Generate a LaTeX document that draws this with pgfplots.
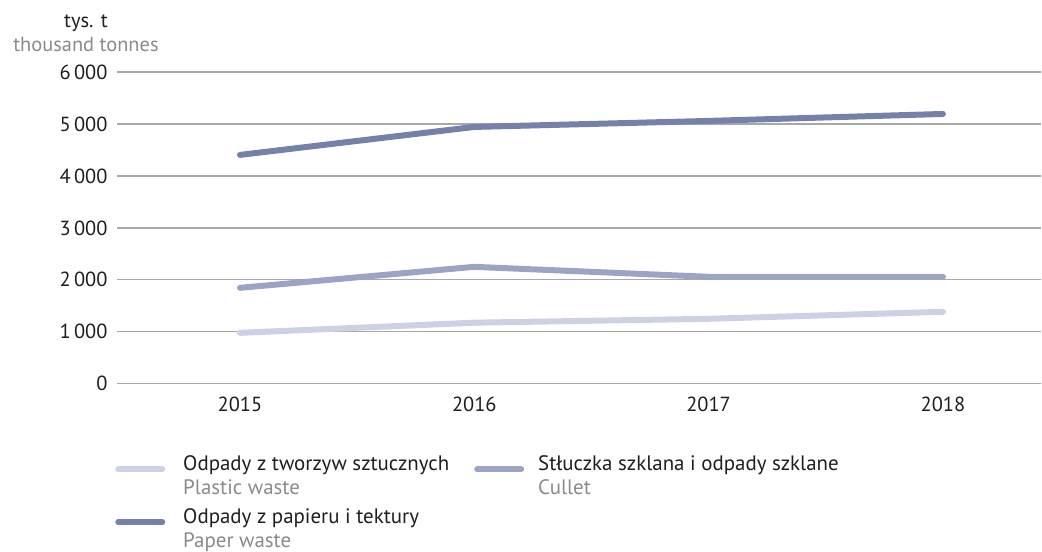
\documentclass[border=0pt]{standalone}
\usepackage{pgfplots}
\pgfplotsset{compat=1.18}
\usepackage{fontspec}
\setmainfont{PT Sans}
\definecolor{plastic}{HTML}{CDD1E4}
\definecolor{cullet}{HTML}{9CA4C6}
\definecolor{paper}{HTML}{7381AB}
\definecolor{engl}{HTML}{8A8A8A}
\definecolor{txt}{HTML}{1E1E1E}
\definecolor{gridc}{HTML}{A8A8A8}
\begin{document}
\begin{tikzpicture}
\begin{axis}[
  scale only axis,
  width=925bp, height=312bp,
  xmin=2014.475, xmax=2018.42,
  ymin=0, ymax=6000,
  axis line style={draw=none},
  tick style={draw=none},
  xtick={2015,2016,2017,2018},
  xticklabels={2015,2016,2017,2018},
  ytick={0,1000,...,6000},
  ymajorgrids,
  grid style={gridc, line width=1.3bp},
  major tick length=0pt,
  tick label style={font=\fontsize{20.5}{24}\selectfont, text=txt},
  yticklabel style={anchor=east, xshift=-6bp},
  xticklabel style={anchor=north, yshift=-10bp},
  /pgf/number format/assume math mode=true,
  /pgf/number format/1000 sep={\,},
  legend columns=2,
  legend cell align=left,
  legend style={at={(-0.002,-0.222)}, anchor=north west, draw=none, fill=none,
    inner sep=0pt, font=\fontsize{21}{24}\selectfont,
    /tikz/every even column/.append style={column sep=25bp},
    row sep=20bp,
    nodes={inner xsep=0pt, inner ysep=1bp, text=txt}},
  legend image code/.code={\draw[#1, line width=6bp, line cap=round] (3bp,0bp) -- (47bp,0bp);},
  every axis plot/.append style={line width=6bp, line cap=round, line join=round},
  clip=false,
]
\addplot[plastic] coordinates {(2015,980) (2016,1175) (2017,1250) (2018,1385)};
\addlegendentry{\hspace{18bp}\begin{tabular}{@{}l@{}}Odpady z tworzyw sztucznych\\\textcolor{engl}{Plastic waste}\end{tabular}}
\addplot[cullet] coordinates {(2015,1846) (2016,2250) (2017,2058) (2018,2058)};
\addlegendentry{\hspace{14bp}\begin{tabular}{@{}l@{}}Stłuczka szklana i odpady szklane\\\textcolor{engl}{Cullet}\end{tabular}}
\addplot[paper] coordinates {(2015,4404) (2016,4942) (2017,5058) (2018,5192)};
\addlegendentry{\hspace{18bp}\begin{tabular}{@{}l@{}}Odpady z papieru i tektury\\\textcolor{engl}{Paper waste}\end{tabular}}
\end{axis}
\node[align=center, font=\fontsize{20.5}{24}\selectfont, anchor=center] at ([xshift=-31bp,yshift=39bp]current axis.north west)
  {\textcolor{txt}{tys. t}\\\textcolor{engl}{thousand tonnes}};
\path[use as bounding box] ([xshift=-117bp,yshift=-168bp]current axis.south west) rectangle ([yshift=72bp]current axis.north east);
\end{tikzpicture}
\end{document}
